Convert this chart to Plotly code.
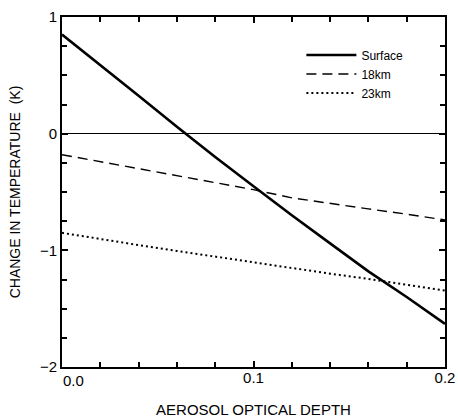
import plotly.graph_objects as go

# Aerosol optical depth (x) and temperature change (K) for each level
optical_depth = [0.0, 0.02, 0.04, 0.06, 0.08, 0.10, 0.12, 0.14, 0.16, 0.18, 0.20]
surface = [0.85, 0.59, 0.325, 0.06, -0.20, -0.45, -0.70, -0.94, -1.18, -1.40, -1.63]
km18 = [-0.18, -0.24, -0.30, -0.36, -0.42, -0.48, -0.55, -0.60, -0.645, -0.69, -0.74]
km23 = [-0.85, -0.905, -0.955, -1.005, -1.055, -1.105, -1.155, -1.20, -1.245, -1.295, -1.345]

# Labelled ticks on the x axis; the origin label is placed separately,
# left-aligned at the axis corner so it clears the lowest y label
x_ticks = [0.0, 0.1, 0.2]
x_labels = ["0.0", "0.1", "0.2"]

FONT = "Liberation Sans Narrow, Arial Narrow, Liberation Sans, sans-serif"

fig = go.Figure()
fig.add_trace(go.Scatter(x=optical_depth, y=surface, mode="lines", name="Surface",
                         line=dict(color="black", width=2.6)))
fig.add_trace(go.Scatter(x=optical_depth, y=km18, mode="lines", name="18km",
                         line=dict(color="black", width=1.4, dash="10px,6px")))
fig.add_trace(go.Scatter(x=optical_depth, y=km23, mode="lines", name="23km",
                         line=dict(color="black", width=2, dash="2px,3px")))

axis_common = dict(
    showgrid=False, showline=True, linecolor="black", linewidth=2,
    mirror="ticks", ticks="inside", ticklen=6, tickwidth=1.5, tickcolor="black",
    tickfont=dict(family=FONT, size=15, color="black"),
    automargin=False,
)

fig.update_xaxes(
    range=[0, 0.2], tickmode="array", tickvals=x_ticks,
    ticktext=[""] + x_labels[1:],
    zeroline=False, ticklabelstandoff=-4,
    minor=dict(ticks="inside", tickmode="linear", tick0=0, dtick=0.02,
               ticklen=5, tickwidth=1.5, tickcolor="black", showgrid=False),
    title=dict(text="AEROSOL OPTICAL DEPTH", font=dict(family=FONT, size=15, color="black"),
               standoff=24),
    **axis_common,
)
fig.update_yaxes(
    range=[-2, 1], tickmode="linear", tick0=0, dtick=1,
    zeroline=True, zerolinecolor="black", zerolinewidth=1,
    minor=dict(ticks="inside", tickmode="linear", tick0=0, dtick=0.25,
               ticklen=5, tickwidth=1.5, tickcolor="black", showgrid=False),
    title=dict(text="CHANGE IN TEMPERATURE  (K)", font=dict(family=FONT, size=14, color="black"),
               standoff=16),
    **axis_common,
)

# Origin label for the x axis
fig.add_annotation(
    x=x_ticks[0], xref="x", y=0, yref="paper",
    xanchor="left", yanchor="top", yshift=-4, showarrow=False,
    text=x_labels[0], font=dict(family=FONT, size=15, color="black"),
    borderpad=0,
)

fig.update_layout(
    template="none",
    width=458, height=418,
    margin=dict(l=62, r=13, t=17, b=51),
    paper_bgcolor="white", plot_bgcolor="white",
    legend=dict(x=0.625, y=0.933, xanchor="left", yanchor="top",
                bgcolor="rgba(0,0,0,0)", borderwidth=0,
                font=dict(family=FONT, size=12, color="black"),
                itemwidth=50, tracegroupgap=0),
    showlegend=True,
)

fig.write_html("out.html")
